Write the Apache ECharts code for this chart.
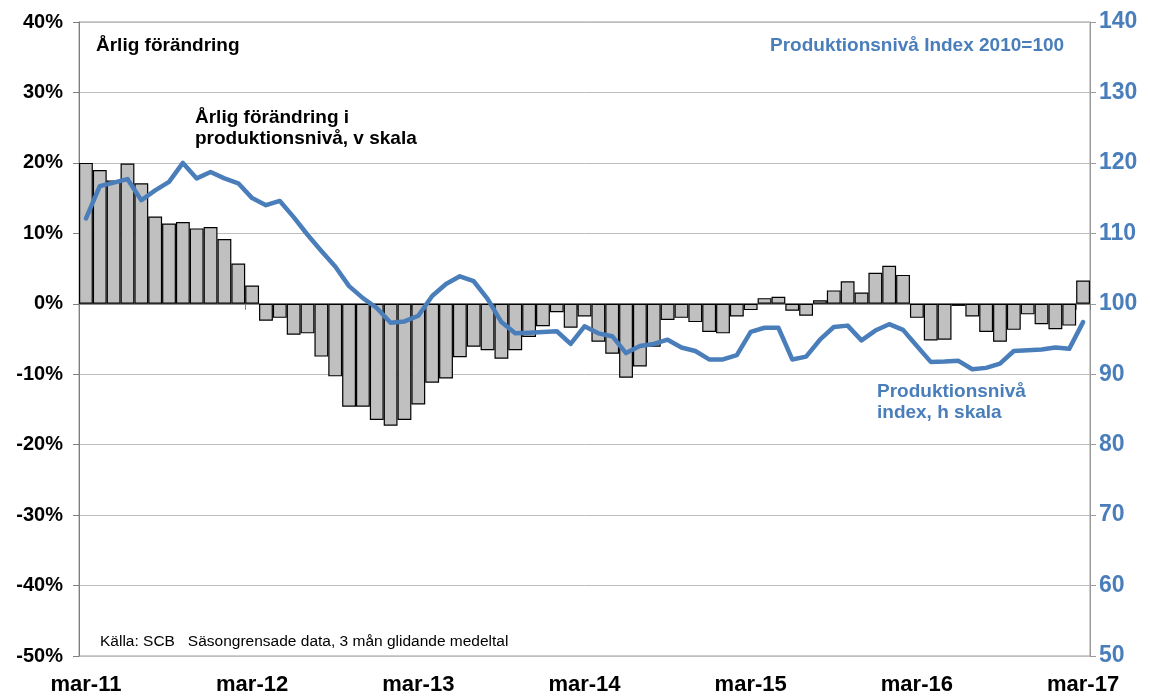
<!DOCTYPE html>
<html>
<head>
<meta charset="utf-8">
<script src="https://cdn.jsdelivr.net/npm/echarts@6/dist/echarts.min.js"></script>
<style>html,body{margin:0;padding:0;background:#fff}#c{width:1150px;height:696px}</style>
</head>
<body>
<div id="c"></div>
<script>
const categories = [
 'mar-11','apr-11','maj-11','jun-11','jul-11','aug-11','sep-11','okt-11','nov-11','dec-11','jan-12','feb-12',
 'mar-12','apr-12','maj-12','jun-12','jul-12','aug-12','sep-12','okt-12','nov-12','dec-12','jan-13','feb-13',
 'mar-13','apr-13','maj-13','jun-13','jul-13','aug-13','sep-13','okt-13','nov-13','dec-13','jan-14','feb-14',
 'mar-14','apr-14','maj-14','jun-14','jul-14','aug-14','sep-14','okt-14','nov-14','dec-14','jan-15','feb-15',
 'mar-15','apr-15','maj-15','jun-15','jul-15','aug-15','sep-15','okt-15','nov-15','dec-15','jan-16','feb-16',
 'mar-16','apr-16','maj-16','jun-16','jul-16','aug-16','sep-16','okt-16','nov-16','dec-16','jan-17','feb-17',
 'mar-17'
];
// Årlig förändring (%), vänster skala
const annualChange = [
 20.0, 19.0, 17.5, 19.9, 17.1, 12.4, 11.4, 11.6, 10.7, 10.9, 9.2, 5.7, 2.6,
 -2.4, -2.0, -4.4, -4.2, -7.5, -10.3, -14.6, -14.6, -16.5, -17.3, -16.5, -14.3, -11.2, -10.6, -7.6, -6.1, -6.6, -7.8, -6.6,
 -4.7, -3.2, -1.2, -3.4, -1.8, -5.4, -7.1, -10.5, -8.9, -6.1, -2.3, -2.0, -2.6, -4.0, -4.2, -1.8, -0.9, 0.8, 1.0,
 -1.0, -1.7, 0.5, 1.9, 3.2, 1.6, 4.4, 5.4, 4.1, -2.0, -5.2, -5.1, -0.3, -1.8, -4.0, -5.4, -3.7, -1.5, -2.9, -3.6, -3.1, 3.3
];
// Produktionsnivå index 2010=100, höger skala
const productionIndex = [
 112.1, 116.7, 117.2, 117.7, 114.7, 116.1, 117.3, 120.0, 117.8, 118.7, 117.8, 117.1, 115.0, 114.0,
 114.6, 112.3, 109.8, 107.5, 105.3, 102.5, 100.8, 99.4, 97.3, 97.5, 98.3, 101.1, 102.8, 103.9, 103.2, 100.7, 97.4,
 95.8, 95.9, 96.0, 96.1, 94.3, 96.8, 95.8, 95.4, 93.0, 94.0, 94.3, 94.9, 93.8, 93.3, 92.1, 92.1, 92.7, 96.0, 96.6, 96.6, 92.1,
 92.5, 94.9, 96.7, 96.9, 94.8, 96.2, 97.1, 96.3, 94.0, 91.75, 91.8, 91.9, 90.7, 90.9, 91.5, 93.3, 93.4, 93.5, 93.8, 93.6, 97.4
];
const leftTicks = { min: -50, max: 40, step: 10 };
const rightTicks = { min: 50, max: 140, step: 10 };

const BLUE = '#4A7EBB';
const FONT = '"Liberation Sans", Arial, sans-serif';
const chart = echarts.init(document.getElementById('c'), null, { renderer: 'canvas' });
chart.setOption({
  animation: false,
  backgroundColor: '#fff',
  grid: { left: 79, right: 60, top: 22, bottom: 32, show: true, borderColor: '#9a9a9a', borderWidth: 1, backgroundColor: 'transparent' },
  xAxis: [
    {
      type: 'category', data: categories, boundaryGap: true, position: 'bottom',
      axisLine: { show: false, onZero: false },
      axisTick: { show: false },
      splitLine: { show: false },
      axisLabel: { interval: 11, margin: 18, color: '#000', fontFamily: FONT, fontWeight: 'bold', fontSize: 22 }
    },
    {
      type: 'category', data: categories, boundaryGap: true, position: 'bottom',
      axisLine: { show: true, onZero: true, lineStyle: { color: '#7f7f7f', width: 1.5 } },
      axisTick: { show: true, interval: 11, length: 6, lineStyle: { color: '#7f7f7f' } },
      axisLabel: { show: false },
      splitLine: { show: false }
    }
  ],
  yAxis: [
    {
      type: 'value', min: leftTicks.min, max: leftTicks.max, interval: leftTicks.step, position: 'left',
      axisLine: { show: true, lineStyle: { color: '#7f7f7f' } },
      axisTick: { show: true, length: 6, lineStyle: { color: '#7f7f7f' } },
      splitLine: { show: true, lineStyle: { color: '#bdbdbd', width: 1 } },
      axisLabel: { formatter: '{value}%', margin: 16, color: '#000', fontFamily: FONT, fontWeight: 'bold', fontSize: 20 }
    },
    {
      type: 'value', min: rightTicks.min, max: rightTicks.max, interval: rightTicks.step, position: 'right',
      axisLine: { show: true, lineStyle: { color: '#9a9a9a' } },
      axisTick: { show: true, length: 6, lineStyle: { color: '#9a9a9a' } },
      splitLine: { show: false },
      axisLabel: { margin: 9, color: BLUE, fontFamily: FONT, fontWeight: 'bold', fontSize: 23 }
    }
  ],
  series: [
    {
      type: 'bar', name: 'Årlig förändring', xAxisIndex: 0, yAxisIndex: 0, data: annualChange,
      barCategoryGap: '0%',
      itemStyle: { color: '#C0C0C0', borderColor: '#000', borderWidth: 1.2 },
      z: 2
    },
    {
      type: 'line', name: 'Produktionsnivå', xAxisIndex: 0, yAxisIndex: 1, data: productionIndex,
      symbol: 'none', smooth: false,
      lineStyle: { color: BLUE, width: 4.5, join: 'round', cap: 'round' },
      z: 4
    }
  ],
  graphic: [
    { type: 'text', left: 96, top: 36, style: { text: 'Årlig förändring', font: 'bold 19px ' + FONT, fill: '#000' } },
    { type: 'text', left: 195, top: 107, style: { text: 'Årlig förändring i\nproduktionsnivå, v skala', font: 'bold 19px ' + FONT, lineHeight: 21, fill: '#000' } },
    { type: 'text', left: 770, top: 36, style: { text: 'Produktionsnivå Index 2010=100', font: 'bold 19px ' + FONT, fill: BLUE } },
    { type: 'text', left: 877, top: 381, style: { text: 'Produktionsnivå\nindex, h skala', font: 'bold 19px ' + FONT, lineHeight: 21, fill: BLUE } },
    { type: 'text', left: 100, top: 634, style: { text: 'Källa: SCB   Säsongrensade data, 3 mån glidande medeltal', font: '15.5px ' + FONT, fill: '#000' } }
  ]
});
</script>
</body>
</html>
